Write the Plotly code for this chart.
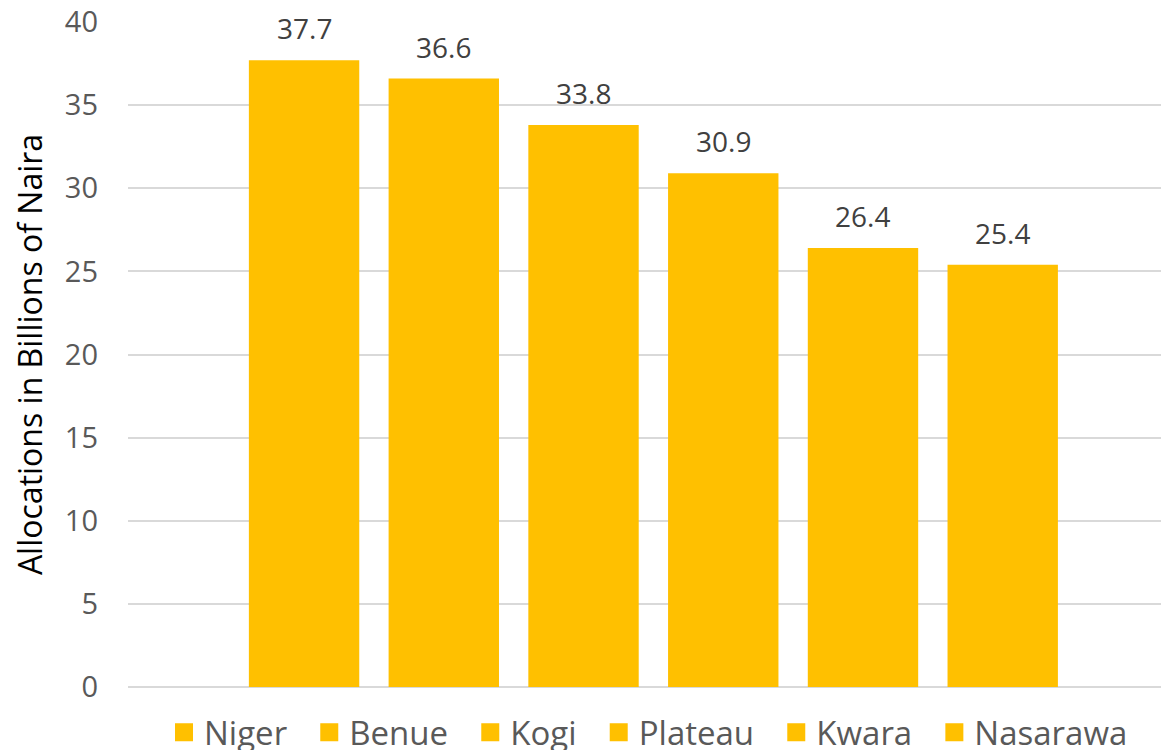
import plotly.graph_objects as go

states = ["Niger", "Benue", "Kogi", "Plateau", "Kwara", "Nasarawa"]
allocations = [37.7, 36.6, 33.8, 30.9, 26.4, 25.4]
y_ticks = [0, 5, 10, 15, 20, 25, 30, 35, 40]

BAR = "#FFC000"
FONT = "Open Sans"
NBSP = "\u00a0"

fig = go.Figure()
for i, (s, v) in enumerate(zip(states, allocations)):
    fig.add_trace(go.Bar(
        x=[i], y=[v], name=s, width=0.79, legendgroup=s, showlegend=False,
        marker=dict(color=BAR, line=dict(width=0)),
        hoverinfo="name+y",
    ))
    fig.add_annotation(
        x=i, y=v, text=f"{v:.1f}", showarrow=False,
        yanchor="bottom", yshift=11,
        font=dict(family=FONT, size=28, color="#404040"),
    )
    # legend entry (large square swatch like the original)
    label = s if i == len(states) - 1 else s + NBSP * 2
    fig.add_trace(go.Scatter(
        x=[None], y=[None], mode="markers", name=label, legendgroup=s,
        marker=dict(symbol="square", size=16, color=BAR,
                    line=dict(color=BAR, width=2)),
        hoverinfo="skip",
    ))

fig.update_layout(
    width=1169, height=750,
    margin=dict(l=120, r=8, t=14, b=71, autoexpand=False),
    paper_bgcolor="white", plot_bgcolor="white",
    barmode="overlay",
    showlegend=True,
    legend=dict(
        orientation="h", x=0.5, xanchor="center", xref="paper",
        y=-0.026, yanchor="top",
        font=dict(family=FONT, size=33, color="#595959"),
        itemwidth=30, traceorder="normal",
    ),
    xaxis=dict(
        range=[-1.26, 6.19], showticklabels=False, showgrid=False,
        zeroline=False, showline=False, fixedrange=True, automargin=False,
    ),
    yaxis=dict(
        range=[0, 40], tickvals=y_ticks, showgrid=True,
        gridcolor="#D9D9D9", gridwidth=1.5, zeroline=True,
        zerolinecolor="#D9D9D9", zerolinewidth=1.5,
        ticks="", ticklabelstandoff=29, automargin=False,
        ticklabeloverflow="allow",
        tickfont=dict(family=FONT, size=29, color="#595959"),
        title=dict(text="Allocations in Billions of Naira",
                   font=dict(family=FONT, size=32, color="#000000"),
                   standoff=12),
    ),
)

fig.write_html("out.html")
